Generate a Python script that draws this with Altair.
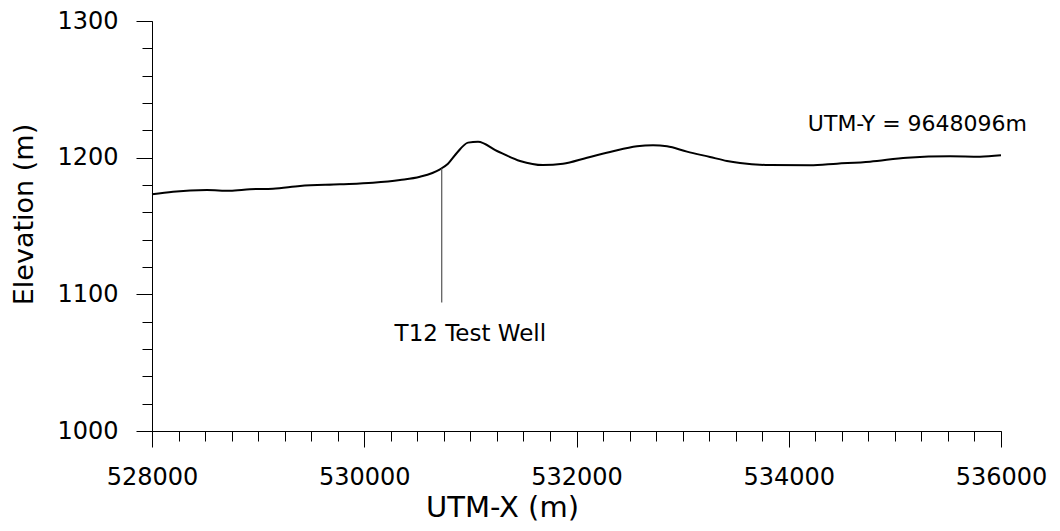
import altair as alt
import pandas as pd

# Profile data
utm_x = [528000, 528198, 528518, 528735, 528923, 529140, 529395, 529771, 530082,
         530337, 530525, 530714, 530789, 530874, 530978, 531072, 531251, 531468,
         531684, 531873, 532099, 532316, 532570, 532721, 532853, 533041, 533258,
         533418, 533541, 533823, 534200, 534455, 534766, 535114, 535520, 535802, 536000]
elev = [1173.2, 1175.1, 1176.3, 1175.8, 1176.9, 1177.3, 1179.3, 1180.5, 1181.7,
        1183.7, 1186.1, 1191.5, 1195.6, 1203.6, 1211.0, 1211.7, 1204.9, 1197.6,
        1194.6, 1195.6, 1200.0, 1204.1, 1208.3, 1209.0, 1208.3, 1204.4, 1200.5,
        1197.6, 1196.1, 1194.6, 1194.4, 1195.6, 1197.1, 1200.0, 1201.0, 1200.7, 1201.7]

well_x = [530730]
well_top = [1192]
well_bottom = [1094]
well_label = ["T12 Test Well"]
well_label_x = [531000]
well_label_y = [1071]

note_text = ["UTM-Y = 9648096m"]
note_x = [534180]
note_y = [1225]

x_major = [528000, 530000, 532000, 534000, 536000]
y_major = [1000, 1100, 1200, 1300]
x_minor = [528000 + 250 * i for i in range(33)]
y_minor = [1000 + 20 * i for i in range(16)]

FONT = "DejaVu Sans"

profile = pd.DataFrame({"x": utm_x, "y": elev})
well = pd.DataFrame({"x": well_x, "y": well_top, "y2": well_bottom})
wlab = pd.DataFrame({"x": well_label_x, "y": well_label_y, "t": well_label})
note = pd.DataFrame({"x": note_x, "y": note_y, "t": note_text})

xscale = alt.Scale(domain=[528000, 536000], nice=False, zero=False)
yscale = alt.Scale(domain=[1000, 1300], nice=False, zero=False)

line = alt.Chart(profile).mark_line(color="black", strokeWidth=2,
                                    interpolate="monotone").encode(
    x=alt.X("x:Q", scale=xscale,
            axis=alt.Axis(values=x_major, format="d", title="UTM-X (m)",
                          tickSize=16, labelPadding=18,
                          titleX=350, titleY=76, titleBaseline="middle",
                          titleAlign="center",
                          labelFontSize=24, titleFontSize=29,
                          labelFont=FONT, titleFont=FONT, labelColor="black",
                          titleColor="black", titleFontWeight="normal",
                          domainColor="black", tickColor="black", grid=False,
                          labelFlush=False)),
    y=alt.Y("y:Q", scale=yscale,
            axis=alt.Axis(values=y_major, format="d", title="Elevation (m)",
                          tickSize=16, labelPadding=18,
                          titleX=-128, titleY=193, titleBaseline="middle",
                          titleAlign="center", titleAngle=270,
                          labelFontSize=24, titleFontSize=27,
                          labelFont=FONT, titleFont=FONT, labelColor="black",
                          titleColor="black", titleFontWeight="normal",
                          domainColor="black", tickColor="black", grid=False,
                          labelFlush=False)),
)

minor = alt.Chart(profile).mark_point(opacity=0).encode(
    x=alt.X("x:Q", scale=xscale,
            axis=alt.Axis(values=x_minor, labels=False, domain=False, title=None,
                          tickSize=10, tickColor="black", grid=False, orient="bottom")),
    y=alt.Y("y:Q", scale=yscale,
            axis=alt.Axis(values=y_minor, labels=False, domain=False, title=None,
                          tickSize=10, tickColor="black", grid=False, orient="left")),
)

well_rule = alt.Chart(well).mark_rule(color="#555555", strokeWidth=1.2).encode(
    x=alt.X("x:Q", scale=xscale, axis=None),
    y=alt.Y("y:Q", scale=yscale, axis=None),
    y2="y2:Q")

well_text = alt.Chart(wlab).mark_text(font=FONT, fontSize=23, color="black",
                                      align="center", baseline="middle").encode(
    x=alt.X("x:Q", scale=xscale, axis=None),
    y=alt.Y("y:Q", scale=yscale, axis=None),
    text="t:N")

note_mark = alt.Chart(note).mark_text(font=FONT, fontSize=22, color="black",
                                      align="left", baseline="middle").encode(
    x=alt.X("x:Q", scale=xscale, axis=None),
    y=alt.Y("y:Q", scale=yscale, axis=None),
    text="t:N")

chart = alt.layer(line, minor, well_rule, well_text, note_mark).resolve_axis(
    x="independent", y="independent"
).properties(
    width=849, height=410,
    background="white",
    autosize=alt.AutoSizeParams(type="none"),
    padding={"left": 144, "top": 13, "right": 50, "bottom": 92},
).configure_view(stroke=None)

chart.save("out.html", embed_options={"renderer": "svg", "actions": False})
